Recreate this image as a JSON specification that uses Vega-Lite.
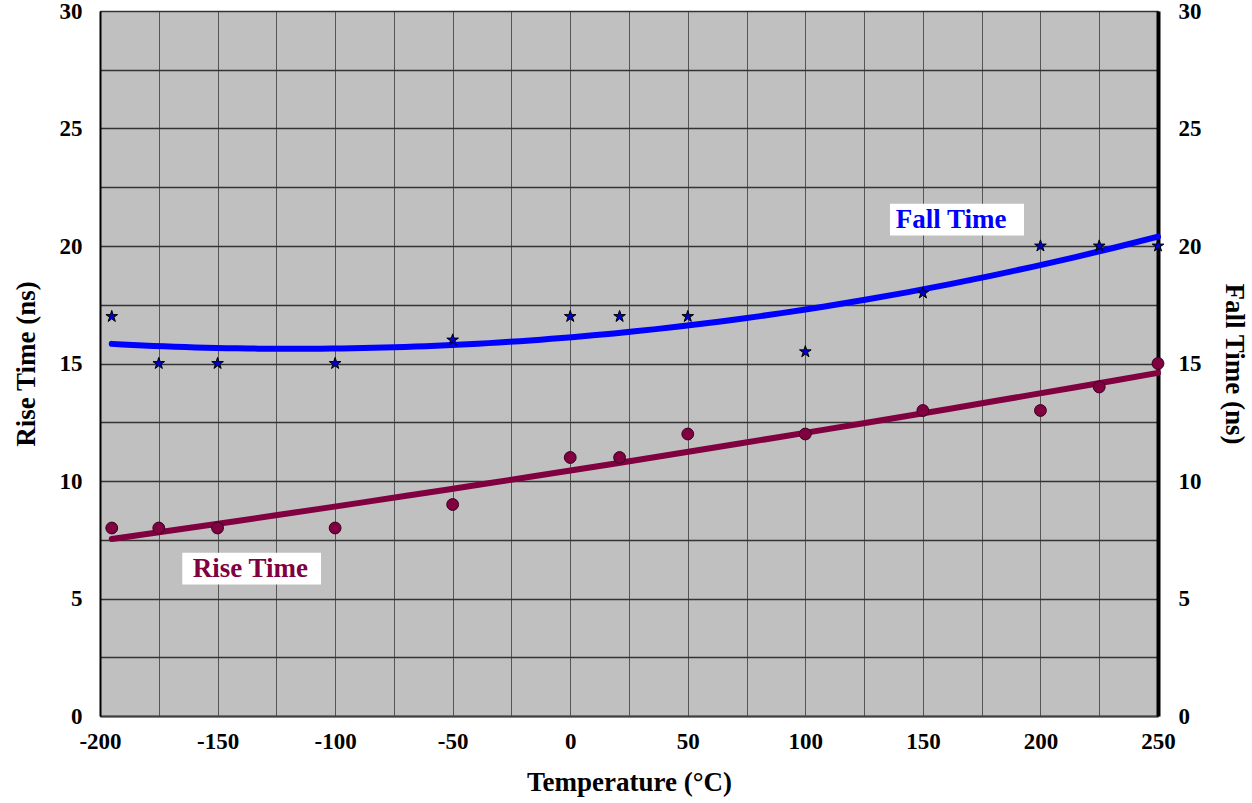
{
  "$schema": "https://vega.github.io/schema/vega-lite/v6.json",
  "width": 1058,
  "height": 705,
  "autosize": "none",
  "padding": {"left": 100, "top": 11, "right": 94, "bottom": 87},
  "background": "white",
  "config": {
    "view": {"fill": "#C0C0C0", "stroke": "#000000", "strokeWidth": 1},
    "font": "Liberation Serif",
    "axis": {
      "labelFont": "Liberation Serif",
      "labelFontWeight": "bold",
      "labelFontSize": 23,
      "labelColor": "#000000",
      "titleFont": "Liberation Serif",
      "titleFontWeight": "bold",
      "titleFontSize": 27,
      "titleColor": "#000000",
      "ticks": false
    }
  },
  "datasets": {
    "rise": [
      {"temp": -195, "value": 8},
      {"temp": -175, "value": 8},
      {"temp": -150, "value": 8},
      {"temp": -100, "value": 8},
      {"temp": -50, "value": 9},
      {"temp": 0, "value": 11},
      {"temp": 21, "value": 11},
      {"temp": 50, "value": 12},
      {"temp": 100, "value": 12},
      {"temp": 150, "value": 13},
      {"temp": 200, "value": 13},
      {"temp": 225, "value": 14},
      {"temp": 250, "value": 15}
    ],
    "fall": [
      {"temp": -195, "value": 17},
      {"temp": -175, "value": 15},
      {"temp": -150, "value": 15},
      {"temp": -100, "value": 15},
      {"temp": -50, "value": 16},
      {"temp": 0, "value": 17},
      {"temp": 21, "value": 17},
      {"temp": 50, "value": 17},
      {"temp": 100, "value": 15.5},
      {"temp": 150, "value": 18},
      {"temp": 200, "value": 20},
      {"temp": 225, "value": 20},
      {"temp": 250, "value": 20}
    ],
    "notes": [
      {"label": "Fall Time", "x": 136, "x2": 193, "y": 21.8, "y2": 20.45, "tx": 162, "ty": 21.1, "series": "fall"},
      {"label": "Rise Time", "x": -165, "x2": -106, "y": 6.95, "y2": 5.6, "tx": -136, "ty": 6.25, "series": "rise"}
    ]
  },
  "layer": [
    {
      "data": {"name": "rise"},
      "transform": [{"regression": "value", "on": "temp", "method": "poly", "order": 2}],
      "mark": {"type": "line", "color": "#800040", "strokeWidth": 6, "strokeCap": "round"},
      "encoding": {
        "x": {
          "field": "temp", "type": "quantitative",
          "scale": {"domain": [-200, 250], "nice": false, "zero": false},
          "axis": {
            "title": "Temperature (°C)", "orient": "bottom",
            "values": [-200,-175,-150,-125,-100,-75,-50,-25,0,25,50,75,100,125,150,175,200,225,250],
            "labelExpr": "datum.value % 50 === 0 ? '' + datum.value : ''",
            "grid": true, "gridColor": "#555555", "gridWidth": 1,
            "domainColor": "#404040", "domainWidth": 2,
            "labelPadding": 14, "titlePadding": 16,
            "labelFlush": false
          }
        },
        "y": {
          "field": "value", "type": "quantitative",
          "scale": {"domain": [0, 30], "nice": false, "zero": true},
          "axis": {
            "title": "Rise Time (ns)", "orient": "left",
            "values": [0,2.5,5,7.5,10,12.5,15,17.5,20,22.5,25,27.5,30],
            "labelExpr": "datum.value % 5 === 0 ? '' + datum.value : ''",
            "grid": true, "gridColor": "#333333", "gridWidth": 1.3,
            "domainColor": "#000000", "domainWidth": 2,
            "labelPadding": 18, "titlePadding": 19
          }
        }
      }
    },
    {
      "data": {"name": "rise"},
      "mark": {"type": "point", "shape": "circle", "filled": true, "size": 140, "color": "#800040", "stroke": "#3a0020", "strokeWidth": 1, "opacity": 1},
      "encoding": {
        "x": {"field": "temp", "type": "quantitative"},
        "y": {"field": "value", "type": "quantitative", "axis": null}
      }
    },
    {
      "data": {"name": "fall"},
      "transform": [{"regression": "value", "on": "temp", "method": "poly", "order": 2}],
      "mark": {"type": "line", "color": "#0000FF", "strokeWidth": 6, "strokeCap": "round"},
      "encoding": {
        "x": {"field": "temp", "type": "quantitative"},
        "y": {
          "field": "value", "type": "quantitative",
          "axis": {
            "title": "Fall Time (ns)", "orient": "right",
            "values": [0,5,10,15,20,25,30],
            "labelExpr": "'' + datum.value",
            "grid": false,
            "domainColor": "#000000", "domainWidth": 4,
            "labelPadding": 20, "titlePadding": 18
          }
        }
      }
    },
    {
      "data": {"name": "fall"},
      "mark": {"type": "point", "shape": "M0,-1L0.225,-0.309L0.951,-0.309L0.363,0.118L0.588,0.809L0,0.382L-0.588,0.809L-0.363,0.118L-0.951,-0.309L-0.225,-0.309Z", "filled": true, "size": 150, "color": "#0000CC", "stroke": "#000000", "strokeWidth": 1, "opacity": 1},
      "encoding": {
        "x": {"field": "temp", "type": "quantitative"},
        "y": {"field": "value", "type": "quantitative", "axis": null}
      }
    },
    {
      "data": {"name": "notes"},
      "mark": {"type": "rect", "fill": "#FFFFFF"},
      "encoding": {
        "x": {"field": "x", "type": "quantitative"},
        "x2": {"field": "x2"},
        "y": {"field": "y", "type": "quantitative", "axis": null},
        "y2": {"field": "y2"}
      }
    },
    {
      "data": {"name": "notes"},
      "mark": {"type": "text", "font": "Liberation Serif", "fontWeight": "bold", "fontSize": 27, "align": "center", "baseline": "middle"},
      "encoding": {
        "x": {"field": "tx", "type": "quantitative"},
        "y": {"field": "ty", "type": "quantitative", "axis": null},
        "text": {"field": "label"},
        "color": {"field": "series", "type": "nominal", "scale": {"domain": ["fall", "rise"], "range": ["#0000FF", "#800040"]}, "legend": null}
      }
    }
  ],
  "resolve": {"axis": {"y": "independent"}}
}
